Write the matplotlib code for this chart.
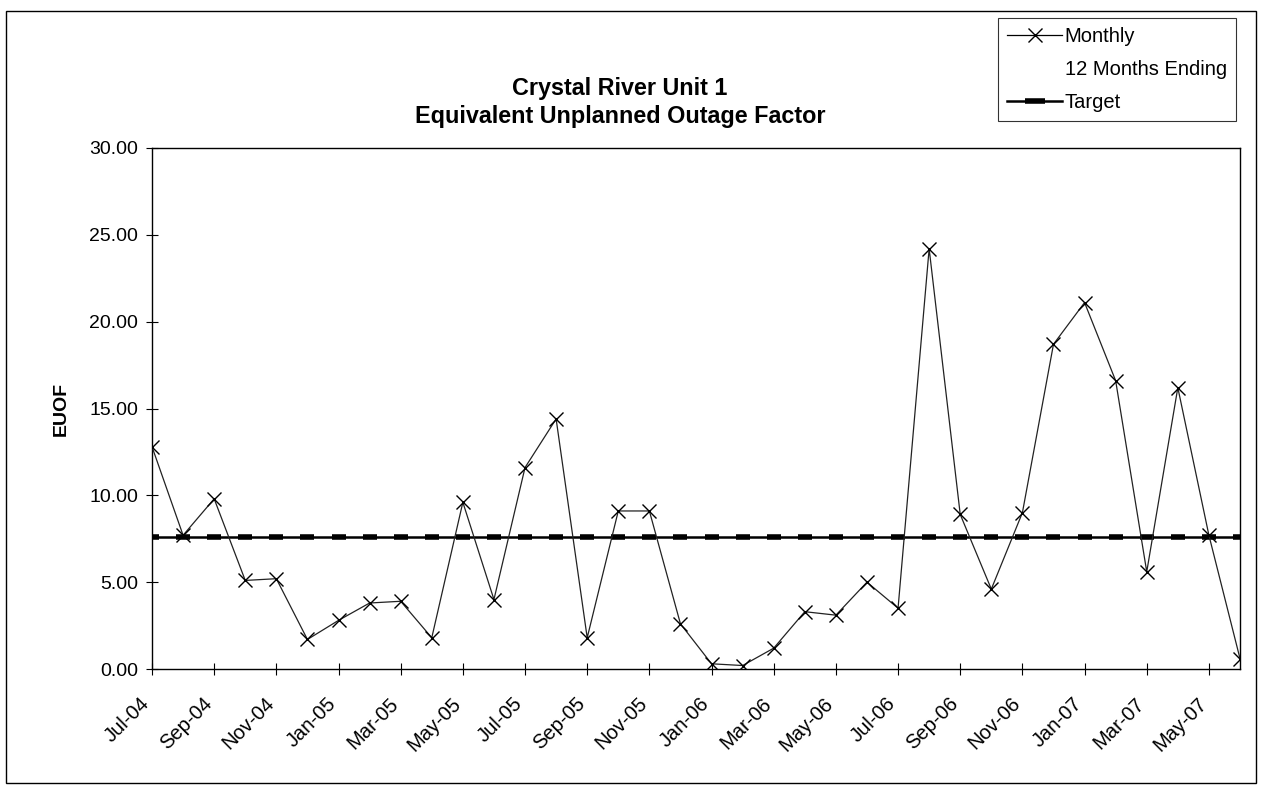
import matplotlib
matplotlib.use("Agg")
import matplotlib.pyplot as plt
import matplotlib.transforms as mtransforms
from matplotlib.lines import Line2D
from matplotlib.patches import Rectangle

plt.rcParams['font.family'] = ['Liberation Sans', 'DejaVu Sans']

months = ["Jul-04", "Aug-04", "Sep-04", "Oct-04", "Nov-04", "Dec-04",
          "Jan-05", "Feb-05", "Mar-05", "Apr-05", "May-05", "Jun-05",
          "Jul-05", "Aug-05", "Sep-05", "Oct-05", "Nov-05", "Dec-05",
          "Jan-06", "Feb-06", "Mar-06", "Apr-06", "May-06", "Jun-06",
          "Jul-06", "Aug-06", "Sep-06", "Oct-06", "Nov-06", "Dec-06",
          "Jan-07", "Feb-07", "Mar-07", "Apr-07", "May-07", "Jun-07"]
monthly = [12.8, 7.7, 9.8, 5.1, 5.2, 1.7, 2.8, 3.8, 3.9, 1.8, 9.6, 4.0,
           11.6, 14.4, 1.8, 9.1, 9.1, 2.6, 0.3, 0.2, 1.2, 3.3, 3.1, 5.0,
           3.5, 24.2, 8.9, 4.6, 9.0, 18.7, 21.1, 16.6, 5.6, 16.2, 7.7, 0.6]
target = [7.6] * len(months)
yticks = [0, 5, 10, 15, 20, 25, 30]

fig = plt.figure(figsize=(12.62, 7.87), dpi=100)
ax = fig.add_axes([152/1262, 1-669/787, (1240-152)/1262, (669-148)/787])

x = list(range(len(months)))
ax.plot(x, target, color='black', lw=1.8, marker='_', markersize=9.5,
        markeredgewidth=4, label='Target', zorder=2)
ax.plot(x, monthly, color='#222222', lw=0.9, marker='x', markersize=10,
        markeredgewidth=1.0, markeredgecolor='black', label='Monthly', zorder=3)

ax.set_xlim(0, 35)
ax.set_ylim(0, 30)
ax.set_yticks(yticks)
ax.set_yticklabels([f"{v:.2f}" for v in yticks], fontsize=14)
ax.set_xticks(x[::2])
ax.set_xticklabels(months[::2], rotation=45, ha='right', rotation_mode='anchor',
                   fontsize=14.5)
ax.tick_params(axis='both', direction='inout', length=8, width=0.8, pad=6)
ax.tick_params(axis='x', pad=14)
shift = mtransforms.ScaledTranslation(-12/100, 0, fig.dpi_scale_trans)
for lab in ax.get_xticklabels():
    lab.set_transform(lab.get_transform() + shift)
for s in ax.spines.values():
    s.set_linewidth(1.0)
    s.set_color('black')

ax.set_ylabel("EUOF", fontsize=14, fontweight='bold', labelpad=14)

fig.text(620/1262, 1-89/787, "Crystal River Unit 1", ha='center', va='center',
         fontsize=16.8, fontweight='bold')
fig.text(620/1262, 1-117/787, "Equivalent Unplanned Outage Factor", ha='center',
         va='center', fontsize=16.8, fontweight='bold')

handles = [
    Line2D([], [], color='black', lw=0.9, marker='x', markersize=10, markeredgewidth=1.0),
    Line2D([], [], linestyle='none'),
    Line2D([], [], color='black', lw=1.8, marker='_', markersize=14, markeredgewidth=4),
]
labels = ["Monthly", "12 Months Ending", "Target"]
leg = fig.legend(handles, labels, loc='upper right',
                 bbox_to_anchor=(1236/1262, 1-18/787), fontsize=14.5,
                 frameon=True, fancybox=False, shadow=False, borderpad=0.45,
                 handlelength=2.7, handletextpad=0.15, labelspacing=0.7,
                 borderaxespad=0)
leg.get_frame().set_edgecolor('black')
leg.get_frame().set_linewidth(0.8)

fig.add_artist(Rectangle((6/1262, 1-783/787), (1256-6)/1262, (783-11)/787,
                         transform=fig.transFigure, fill=False,
                         edgecolor='black', lw=1.0))

fig.savefig("out.png", dpi=100)
